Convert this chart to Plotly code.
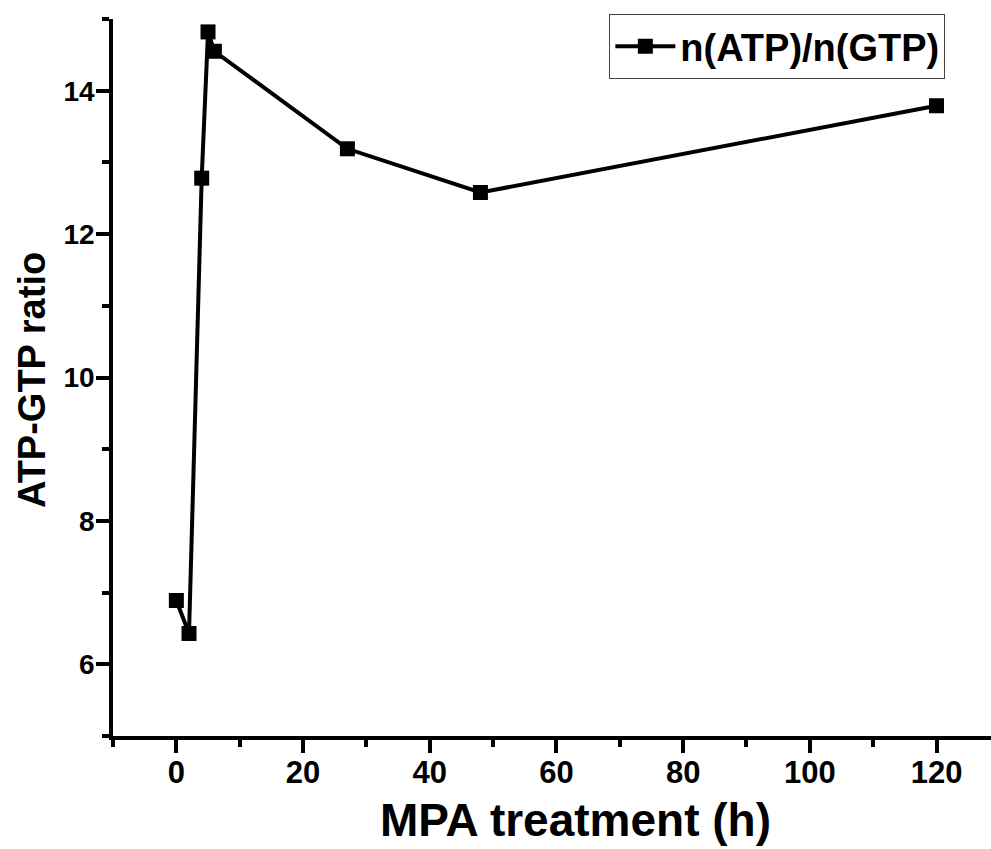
import plotly.graph_objects as go

hours = [0, 2, 4, 5, 6, 27, 48, 120]
ratio = [6.89, 6.43, 12.78, 14.82, 14.55, 13.19, 12.58, 13.79]
series_name = "n(ATP)/n(GTP)"
x_title = "MPA treatment (h)"
y_title = "ATP-GTP ratio"

FONT = "Liberation Sans, Arial, sans-serif"

fig = go.Figure()
fig.add_trace(go.Scatter(
    x=hours, y=ratio, mode="lines+markers", name=series_name,
    line=dict(color="black", width=4),
    marker=dict(symbol="square", size=15, color="black"),
))

fig.update_layout(
    width=991, height=849,
    margin=dict(l=113, r=0, t=19, b=113),
    plot_bgcolor="white", paper_bgcolor="white",
    font=dict(family=FONT, color="black"),
    showlegend=True,
    legend=dict(
        x=0.948, y=1.007, xanchor="right", yanchor="top",
        bordercolor="#444", borderwidth=1, bgcolor="white",
        font=dict(family=FONT, size=38, color="black", weight="bold"),
        itemwidth=60, tracegroupgap=0,
    ),
    annotations=[
        dict(text="<b>%s</b>" % x_title, xref="paper", yref="paper",
             x=0.527, y=-0.117, xanchor="center", yanchor="middle",
             showarrow=False, font=dict(family=FONT, size=46, color="black")),
        dict(text="<b>%s</b>" % y_title, xref="paper", yref="paper",
             x=-0.093, y=0.497, xanchor="center", yanchor="middle",
             textangle=-90, showarrow=False,
             font=dict(family=FONT, size=38, color="black")),
    ],
)

fig.update_xaxes(
    range=[-10, 128.6], tick0=0, dtick=20,
    showline=True, linewidth=3.5, linecolor="black", mirror=False,
    ticks="outside", ticklen=13, tickwidth=3.5, tickcolor="black",
    minor=dict(ticks="outside", ticklen=7, tickwidth=3.5, dtick=10, tick0=0, tickcolor="black"),
    showgrid=False, zeroline=False, ticklabelstandoff=-7,
    tickfont=dict(family=FONT, size=31, color="black", weight="bold"),
)
fig.update_yaxes(
    range=[5, 15], tick0=6, dtick=2,
    showline=True, linewidth=3.5, linecolor="black", mirror=False,
    ticks="outside", ticklen=13, tickwidth=3.5, tickcolor="black",
    minor=dict(ticks="outside", ticklen=7, tickwidth=3.5, dtick=1, tick0=5, tickcolor="black"),
    showgrid=False, zeroline=False, ticklabelstandoff=-4,
    tickfont=dict(family=FONT, size=28, color="black", weight="bold"),
)

fig.write_html("out.html")
